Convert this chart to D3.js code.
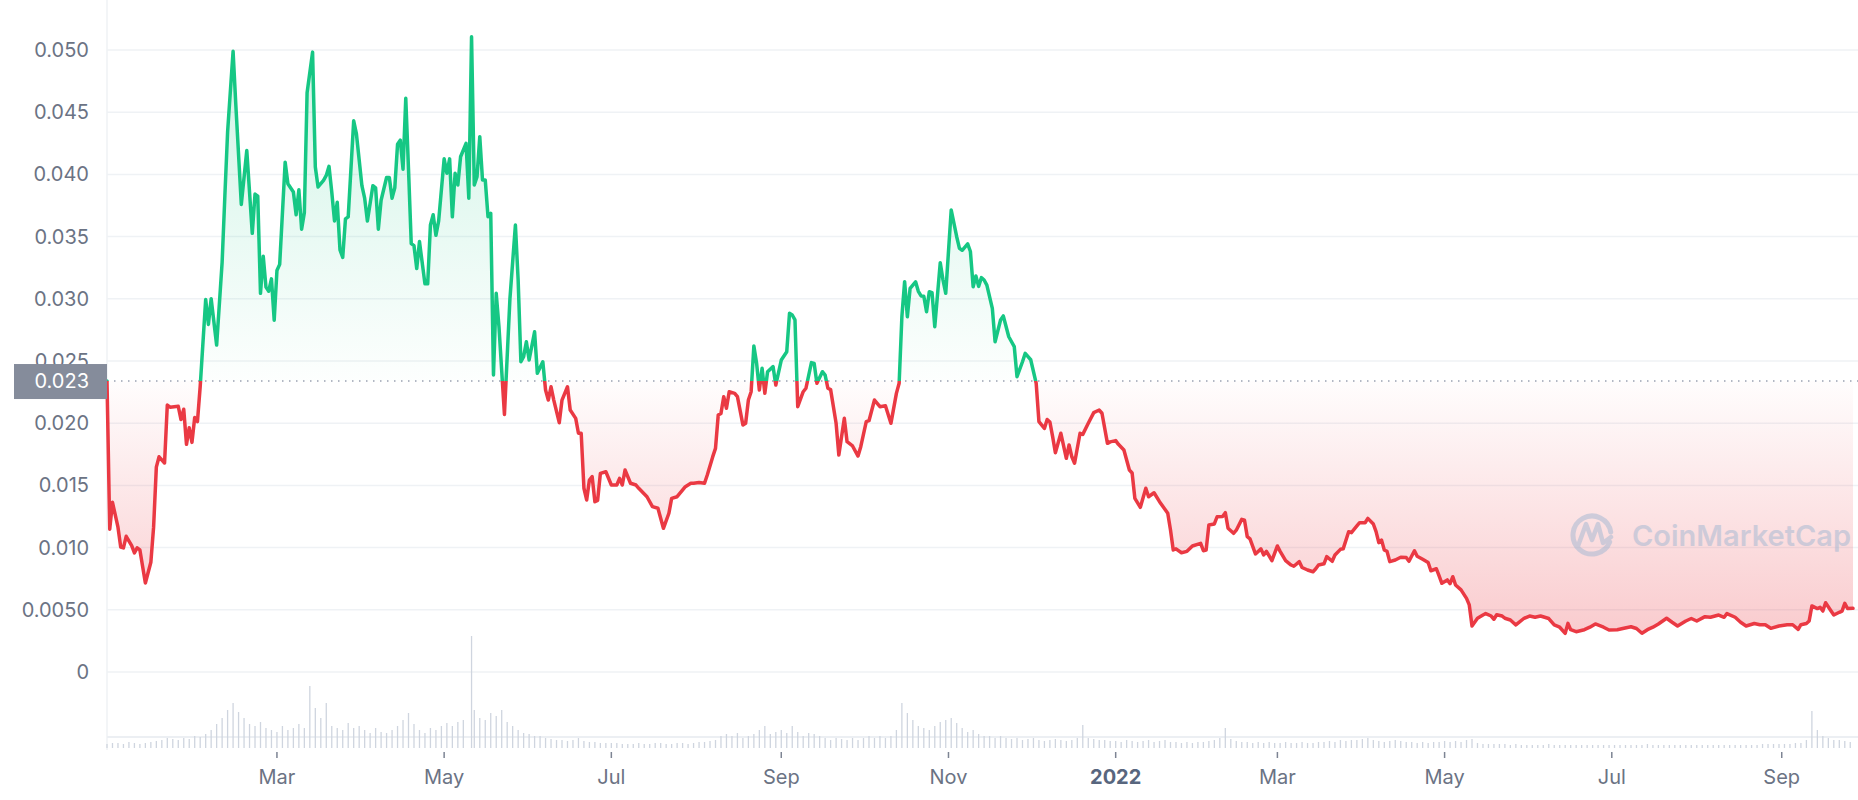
<!DOCTYPE html>
<html>
<head>
<meta charset="utf-8">
<script src="https://cdn.jsdelivr.net/npm/d3@7"></script>
<style>
  html, body { margin: 0; padding: 0; background: #fff; }
  svg { display: block; font-family: Inter, "Noto Sans", sans-serif; }
</style>
</head>
<body>
<div id="chart"></div>
<script>
// price series, one line per month
const DATES = [
  '2020-12-29','2020-12-30','2020-12-31',
  '2021-01-02','2021-01-03','2021-01-04','2021-01-05','2021-01-07','2021-01-08','2021-01-09','2021-01-10','2021-01-12','2021-01-14','2021-01-15','2021-01-16','2021-01-17','2021-01-19','2021-01-20','2021-01-21','2021-01-24','2021-01-25','2021-01-26','2021-01-27','2021-01-28','2021-01-29','2021-01-30','2021-01-31',
  '2021-02-01','2021-02-03','2021-02-04','2021-02-05','2021-02-07','2021-02-09','2021-02-10','2021-02-11','2021-02-13','2021-02-14','2021-02-16','2021-02-18','2021-02-20','2021-02-21','2021-02-22','2021-02-23','2021-02-24','2021-02-25','2021-02-26','2021-02-27','2021-02-28',
  '2021-03-01','2021-03-02','2021-03-04','2021-03-05','2021-03-07','2021-03-08','2021-03-09','2021-03-10','2021-03-11','2021-03-12','2021-03-14','2021-03-15','2021-03-16','2021-03-18','2021-03-19','2021-03-20','2021-03-21','2021-03-22','2021-03-23','2021-03-24','2021-03-25','2021-03-26','2021-03-27','2021-03-29','2021-03-30',
  '2021-04-01','2021-04-02','2021-04-03','2021-04-05','2021-04-06','2021-04-07','2021-04-08','2021-04-10','2021-04-11','2021-04-12','2021-04-13','2021-04-14','2021-04-15','2021-04-16','2021-04-17','2021-04-18','2021-04-19','2021-04-20','2021-04-21','2021-04-22','2021-04-24','2021-04-25','2021-04-26','2021-04-27','2021-04-28','2021-04-29',
  '2021-05-01','2021-05-02','2021-05-03','2021-05-04','2021-05-05','2021-05-06','2021-05-07','2021-05-09','2021-05-10','2021-05-11','2021-05-12','2021-05-13','2021-05-14','2021-05-15','2021-05-16','2021-05-17','2021-05-18','2021-05-19','2021-05-20','2021-05-21','2021-05-23','2021-05-25','2021-05-27','2021-05-28','2021-05-29','2021-05-30','2021-05-31',
  '2021-06-01','2021-06-03','2021-06-04','2021-06-06','2021-06-07','2021-06-08','2021-06-09','2021-06-10','2021-06-12','2021-06-13','2021-06-15','2021-06-16','2021-06-18','2021-06-19','2021-06-20','2021-06-21','2021-06-22','2021-06-23','2021-06-24','2021-06-25','2021-06-26','2021-06-27','2021-06-29',
  '2021-07-01','2021-07-03','2021-07-04','2021-07-05','2021-07-06','2021-07-08','2021-07-10','2021-07-11','2021-07-14','2021-07-16','2021-07-18','2021-07-20','2021-07-22','2021-07-23','2021-07-25','2021-07-28','2021-07-30','2021-07-31',
  '2021-08-02','2021-08-04','2021-08-05','2021-08-07','2021-08-08','2021-08-09','2021-08-10','2021-08-11','2021-08-12','2021-08-13','2021-08-15','2021-08-16','2021-08-18','2021-08-19','2021-08-20','2021-08-21','2021-08-22','2021-08-23','2021-08-24','2021-08-25','2021-08-26','2021-08-27','2021-08-29','2021-08-30',
  '2021-09-01','2021-09-03','2021-09-04','2021-09-05','2021-09-06','2021-09-07','2021-09-09','2021-09-10','2021-09-12','2021-09-13','2021-09-14','2021-09-16','2021-09-17','2021-09-18','2021-09-19','2021-09-21','2021-09-22','2021-09-24','2021-09-25','2021-09-27','2021-09-29','2021-09-30',
  '2021-10-02','2021-10-03','2021-10-05','2021-10-07','2021-10-09','2021-10-11','2021-10-13','2021-10-14','2021-10-15','2021-10-16','2021-10-17','2021-10-18','2021-10-20','2021-10-21','2021-10-22','2021-10-23','2021-10-24','2021-10-25','2021-10-26','2021-10-27','2021-10-29','2021-10-30','2021-10-31',
  '2021-11-02','2021-11-04','2021-11-05','2021-11-06','2021-11-08','2021-11-09','2021-11-10','2021-11-11','2021-11-12','2021-11-13','2021-11-14','2021-11-15','2021-11-17','2021-11-18','2021-11-20','2021-11-21','2021-11-23','2021-11-25','2021-11-26','2021-11-28','2021-11-29',
  '2021-12-01','2021-12-03','2021-12-04','2021-12-06','2021-12-07','2021-12-08','2021-12-09','2021-12-10','2021-12-12','2021-12-14','2021-12-15','2021-12-16','2021-12-17','2021-12-19','2021-12-20','2021-12-22','2021-12-24','2021-12-26','2021-12-27','2021-12-29','2021-12-30',
  '2022-01-01','2022-01-02','2022-01-04','2022-01-06','2022-01-07','2022-01-08','2022-01-10','2022-01-12','2022-01-13','2022-01-15','2022-01-17','2022-01-20','2022-01-21','2022-01-22','2022-01-23','2022-01-25','2022-01-27','2022-01-29',
  '2022-02-01','2022-02-02','2022-02-03','2022-02-04','2022-02-06','2022-02-07','2022-02-09','2022-02-10','2022-02-11','2022-02-13','2022-02-14','2022-02-16','2022-02-17','2022-02-18','2022-02-19','2022-02-21','2022-02-23','2022-02-24','2022-02-25','2022-02-27',
  '2022-03-01','2022-03-02','2022-03-04','2022-03-06','2022-03-07','2022-03-09','2022-03-10','2022-03-12','2022-03-14','2022-03-15','2022-03-16','2022-03-18','2022-03-19','2022-03-21','2022-03-22','2022-03-24','2022-03-25','2022-03-27','2022-03-28','2022-03-30','2022-03-31',
  '2022-04-02','2022-04-03','2022-04-05','2022-04-06','2022-04-07','2022-04-08','2022-04-09','2022-04-10','2022-04-11','2022-04-13','2022-04-15','2022-04-17','2022-04-18','2022-04-20','2022-04-21','2022-04-23','2022-04-25','2022-04-26','2022-04-28','2022-04-29','2022-04-30',
  '2022-05-02','2022-05-03','2022-05-04','2022-05-05','2022-05-07','2022-05-09','2022-05-10','2022-05-11','2022-05-13','2022-05-15','2022-05-16','2022-05-18','2022-05-19','2022-05-20','2022-05-22','2022-05-23','2022-05-25','2022-05-27','2022-05-30',
  '2022-06-01','2022-06-03','2022-06-05','2022-06-08','2022-06-10','2022-06-12','2022-06-14','2022-06-15','2022-06-16','2022-06-18','2022-06-21','2022-06-23','2022-06-25','2022-06-28','2022-06-30',
  '2022-07-03','2022-07-05','2022-07-08','2022-07-10','2022-07-12','2022-07-14','2022-07-16','2022-07-18','2022-07-21','2022-07-23','2022-07-25','2022-07-28','2022-07-30',
  '2022-08-01','2022-08-04','2022-08-06','2022-08-09','2022-08-11','2022-08-12','2022-08-15','2022-08-17','2022-08-19','2022-08-22','2022-08-24','2022-08-26','2022-08-28','2022-08-31',
  '2022-09-03','2022-09-05','2022-09-07','2022-09-08','2022-09-10','2022-09-11','2022-09-12','2022-09-14','2022-09-15','2022-09-16','2022-09-17','2022-09-19','2022-09-20','2022-09-22','2022-09-23','2022-09-24','2022-09-25','2022-09-27'
];

const PRICES = [
  .02339,.01148,.01364,
  .01164,.01005,.00998,.01091,.01015,.00958,.00998,.00981,.00715,.00882,.01164,.01647,.01730,.01680,.02146,.02129,.02136,.02029,.02112,.01830,.01963,.01846,.02046,.02013,
  .02295,.02994,.02794,.03001,.02628,.03293,.03826,.04341,.04990,.04558,.03759,.04192,.03526,.03842,.03826,.03044,.03343,.03094,.03061,.03160,.02828,
  .03227,.03277,.04098,.03925,.03859,.03676,.03876,.03560,.03693,.04657,.04983,.04059,.03899,.03952,.03992,.04065,.03859,.03626,.03776,.03393,.03333,.03643,.03659,.04431,.04325,
  .03909,.03809,.03626,.03909,.03892,.03560,.03792,.03975,.03975,.03809,.03892,.04242,.04275,.04042,.04612,.04042,.03443,.03427,.03243,.03460,.03120,.03120,.03593,.03676,.03510,.03626,
  .04125,.04009,.04125,.03659,.04009,.03915,.04142,.04250,.03808,.05107,.03915,.03982,.04303,.03955,.03955,.03660,.03687,.02387,.03044,.02776,.02070,.03000,.03593,.03151,.02494,.02535,.02655,
  .02508,.02735,.02401,.02494,.02267,.02186,.02293,.02186,.02004,.02186,.02293,.02106,.02039,.01919,.01919,.01477,.01383,.01543,.01570,.01369,.01380,.01597,.01610,
  .01503,.01503,.01557,.01503,.01624,.01517,.01503,.01477,.01409,.01329,.01316,.01155,.01276,.01396,.01409,.01490,.01517,.01517,
  .01523,.01517,.01584,.01731,.01798,.02066,.02079,.02213,.02120,.02253,.02240,.02213,.01986,.02000,.02186,.02253,.02621,.02481,.02267,.02441,.02240,.02414,.02455,.02307,
  .02508,.02575,.02883,.02870,.02830,.02133,.02253,.02281,.02487,.02480,.02321,.02414,.02387,.02281,.02270,.01999,.01744,.02039,.01851,.01817,.01736,.01811,
  .02012,.02020,.02186,.02133,.02140,.01999,.02240,.02321,.02856,.03137,.02856,.03084,.03137,.03060,.03023,.03020,.02896,.03057,.03050,.02776,.03290,.03151,.03044,
  .03714,.03499,.03406,.03390,.03441,.03380,.03097,.03183,.03100,.03170,.03151,.03110,.02923,.02655,.02830,.02862,.02695,.02615,.02374,.02494,.02561,
  .02510,.02321,.02012,.01958,.02030,.02010,.01892,.01763,.01919,.01718,.01825,.01730,.01678,.01919,.01910,.01999,.02085,.02106,.02080,.01838,.01850,
  .01860,.01830,.01785,.01624,.01600,.01396,.01324,.01477,.01409,.01441,.01369,.01276,.01141,.00981,.00990,.00959,.00970,.01013,
  .01034,.00975,.00980,.01182,.01190,.01248,.01250,.01281,.01155,.01115,.01140,.01227,.01220,.01088,.01070,.00949,.00990,.00941,.00970,.00895,
  .01013,.00970,.00895,.00860,.00850,.00887,.00840,.00820,.00806,.00830,.00860,.00870,.00927,.00890,.00940,.00986,.00990,.01128,.01120,.01174,.01200,
  .01200,.01235,.01190,.01128,.01040,.01060,.00981,.00970,.00887,.00900,.00922,.00920,.00890,.00975,.00930,.00906,.00880,.00814,.00830,.00772,.00713,
  .00740,.00710,.00766,.00699,.00660,.00592,.00539,.00370,.00432,.00458,.00470,.00450,.00424,.00460,.00450,.00432,.00418,.00378,.00432,
  .00450,.00440,.00450,.00430,.00378,.00360,.00311,.00391,.00340,.00324,.00340,.00360,.00386,.00360,.00338,
  .00340,.00350,.00364,.00350,.00311,.00340,.00360,.00386,.00432,.00400,.00370,.00410,.00430,
  .00410,.00445,.00440,.00458,.00440,.00470,.00440,.00400,.00370,.00390,.00380,.00380,.00351,.00370,
  .00380,.00380,.00343,.00380,.00390,.00410,.00531,.00510,.00520,.00490,.00557,.00490,.00458,.00480,.00490,.00552,.00510,.00512
];

// traded volume (relative units) every other day
const VOL_DATES = [
  '2020-12-29','2020-12-31',
  '2021-01-02','2021-01-04','2021-01-06','2021-01-08','2021-01-10','2021-01-12','2021-01-14','2021-01-16','2021-01-18','2021-01-20','2021-01-22','2021-01-24','2021-01-26','2021-01-28','2021-01-30',
  '2021-02-01','2021-02-03','2021-02-05','2021-02-07','2021-02-09','2021-02-11','2021-02-13','2021-02-15','2021-02-17','2021-02-19','2021-02-21','2021-02-23','2021-02-25','2021-02-27',
  '2021-03-01','2021-03-03','2021-03-05','2021-03-07','2021-03-09','2021-03-11','2021-03-13','2021-03-15','2021-03-17','2021-03-19','2021-03-21','2021-03-23','2021-03-25','2021-03-27','2021-03-29','2021-03-31',
  '2021-04-02','2021-04-04','2021-04-06','2021-04-08','2021-04-10','2021-04-12','2021-04-14','2021-04-16','2021-04-18','2021-04-20','2021-04-22','2021-04-24','2021-04-26','2021-04-28','2021-04-30',
  '2021-05-02','2021-05-04','2021-05-06','2021-05-08','2021-05-11','2021-05-12','2021-05-14','2021-05-16','2021-05-18','2021-05-20','2021-05-22','2021-05-24','2021-05-26','2021-05-28','2021-05-30',
  '2021-06-01','2021-06-03','2021-06-05','2021-06-07','2021-06-09','2021-06-11','2021-06-13','2021-06-15','2021-06-17','2021-06-19','2021-06-21','2021-06-23','2021-06-25','2021-06-27','2021-06-29',
  '2021-07-01','2021-07-03','2021-07-05','2021-07-07','2021-07-09','2021-07-11','2021-07-13','2021-07-15','2021-07-17','2021-07-19','2021-07-21','2021-07-23','2021-07-25','2021-07-27','2021-07-29','2021-07-31',
  '2021-08-02','2021-08-04','2021-08-06','2021-08-08','2021-08-10','2021-08-12','2021-08-14','2021-08-16','2021-08-18','2021-08-20','2021-08-22','2021-08-24','2021-08-26','2021-08-28','2021-08-30',
  '2021-09-01','2021-09-03','2021-09-05','2021-09-07','2021-09-09','2021-09-11','2021-09-13','2021-09-15','2021-09-17','2021-09-19','2021-09-21','2021-09-23','2021-09-25','2021-09-27','2021-09-29',
  '2021-10-01','2021-10-03','2021-10-05','2021-10-07','2021-10-09','2021-10-11','2021-10-13','2021-10-15','2021-10-17','2021-10-19','2021-10-21','2021-10-23','2021-10-25','2021-10-27','2021-10-29','2021-10-31',
  '2021-11-02','2021-11-04','2021-11-06','2021-11-08','2021-11-10','2021-11-12','2021-11-14','2021-11-16','2021-11-18','2021-11-20','2021-11-22','2021-11-24','2021-11-26','2021-11-28','2021-11-30',
  '2021-12-02','2021-12-04','2021-12-06','2021-12-08','2021-12-10','2021-12-12','2021-12-14','2021-12-16','2021-12-18','2021-12-20','2021-12-22','2021-12-24','2021-12-26','2021-12-28','2021-12-30',
  '2022-01-01','2022-01-03','2022-01-05','2022-01-07','2022-01-09','2022-01-11','2022-01-13','2022-01-15','2022-01-17','2022-01-19','2022-01-21','2022-01-23','2022-01-25','2022-01-27','2022-01-29','2022-01-31',
  '2022-02-02','2022-02-04','2022-02-06','2022-02-08','2022-02-10','2022-02-12','2022-02-14','2022-02-16','2022-02-18','2022-02-20','2022-02-22','2022-02-24','2022-02-26','2022-02-28',
  '2022-03-02','2022-03-04','2022-03-06','2022-03-08','2022-03-10','2022-03-12','2022-03-14','2022-03-16','2022-03-18','2022-03-20','2022-03-22','2022-03-24','2022-03-26','2022-03-28','2022-03-30',
  '2022-04-01','2022-04-03','2022-04-05','2022-04-07','2022-04-09','2022-04-11','2022-04-13','2022-04-15','2022-04-17','2022-04-19','2022-04-21','2022-04-23','2022-04-25','2022-04-27','2022-04-29',
  '2022-05-01','2022-05-03','2022-05-05','2022-05-07','2022-05-09','2022-05-11','2022-05-13','2022-05-15','2022-05-17','2022-05-19','2022-05-21','2022-05-23','2022-05-25','2022-05-27','2022-05-29','2022-05-31',
  '2022-06-02','2022-06-04','2022-06-06','2022-06-08','2022-06-10','2022-06-12','2022-06-14','2022-06-16','2022-06-18','2022-06-20','2022-06-22','2022-06-24','2022-06-26','2022-06-28','2022-06-30',
  '2022-07-02','2022-07-04','2022-07-06','2022-07-08','2022-07-10','2022-07-12','2022-07-14','2022-07-16','2022-07-18','2022-07-20','2022-07-22','2022-07-24','2022-07-26','2022-07-28','2022-07-30',
  '2022-08-01','2022-08-03','2022-08-05','2022-08-07','2022-08-09','2022-08-11','2022-08-13','2022-08-15','2022-08-17','2022-08-19','2022-08-21','2022-08-23','2022-08-25','2022-08-27','2022-08-29','2022-08-31',
  '2022-09-02','2022-09-04','2022-09-06','2022-09-08','2022-09-10','2022-09-12','2022-09-14','2022-09-16','2022-09-18','2022-09-20','2022-09-22','2022-09-24','2022-09-26'
];

const VOLUMES = [
  4,5,
  5,4,6,5,4,5,6,7,8,10,9,8,10,9,12,
  11,14,18,24,30,38,45,36,30,24,22,26,20,18,
  16,22,18,20,24,20,62,40,30,45,22,20,18,25,20,22,
  18,15,20,16,15,18,22,28,35,24,18,15,20,18,22,
  25,22,26,28,112,38,30,28,35,32,38,26,22,18,15,
  14,12,12,10,9,8,8,7,8,10,7,6,6,5,5,
  5,5,4,4,4,5,4,4,5,5,4,4,5,5,4,5,
  6,6,7,8,12,14,12,15,10,12,14,18,22,14,16,
  18,15,22,16,12,15,14,12,10,8,10,9,8,10,8,
  10,12,10,12,10,12,18,45,35,28,22,20,18,22,26,28,
  30,25,20,16,18,14,12,12,10,12,10,9,10,8,9,
  10,8,7,8,9,8,7,8,10,23,10,9,8,8,7,
  7,6,8,7,6,7,8,6,7,8,6,6,5,6,5,6,
  6,7,8,10,20,9,7,6,6,5,6,5,6,5,
  5,6,5,5,6,5,5,6,6,7,6,8,7,8,8,
  9,10,8,7,6,7,8,7,6,6,5,6,5,6,6,
  7,6,7,6,8,9,5,4,4,4,4,4,3,4,3,3,
  3,3,3,4,3,3,3,3,3,3,3,3,3,3,3,
  3,3,3,3,3,3,4,3,3,3,3,3,3,3,3,
  3,3,3,3,3,3,3,3,3,3,3,3,4,4,4,4,
  4,4,5,5,8,37,18,12,10,8,8,7,6
];

const BASE_PRICE = 0.02339;
const BASE_LABEL = '0.023';
const Y_TICKS = [0, 0.005, 0.010, 0.015, 0.020, 0.025, 0.030, 0.035, 0.040, 0.045, 0.050];
const Y_TICK_LABELS = ['0', '0.0050', '0.010', '0.015', '0.020', '0.025', '0.030', '0.035', '0.040', '0.045', '0.050'];
const X_TICKS = ['2021-03-01', '2021-05-01', '2021-07-01', '2021-09-01', '2021-11-01',
                 '2022-01-01', '2022-03-01', '2022-05-01', '2022-07-01', '2022-09-01'];

const WIDTH = 1858;
const HEIGHT = 800;
const PLOT_LEFT = 107;
const PLOT_RIGHT = 1853;
const GREEN = '#16c784';
const RED = '#ea3943';
const GRID = '#eff2f5';
const LABEL = '#6b7384';

const parseDate = d3.timeParse('%Y-%m-%d');
const monthFormat = d3.timeFormat('%b');

const data = DATES.map((d, i) => ({date: parseDate(d), price: PRICES[i]}));
const volData = VOL_DATES.map((d, i) => ({date: parseDate(d), vol: VOLUMES[i]}));

const x = d3.scaleTime()
  .domain(d3.extent(data, d => d.date))
  .range([PLOT_LEFT, PLOT_RIGHT]);

const y = d3.scaleLinear()
  .domain([0, 0.05])
  .range([672, 50]);

const yVol = d3.scaleLinear()
  .domain([0, 120])
  .range([748, 628]);

const svg = d3.select('#chart').append('svg')
  .attr('width', WIDTH)
  .attr('height', HEIGHT)
  .attr('viewBox', `0 0 ${WIDTH} ${HEIGHT}`);

const baseY = y(BASE_PRICE);

// gradients and clips
const defs = svg.append('defs');

const greenGrad = defs.append('linearGradient')
  .attr('id', 'greenFill')
  .attr('gradientUnits', 'userSpaceOnUse')
  .attr('x1', 0).attr('x2', 0)
  .attr('y1', baseY).attr('y2', y(0.05));
greenGrad.append('stop').attr('offset', 0).attr('stop-color', GREEN).attr('stop-opacity', 0.01);
greenGrad.append('stop').attr('offset', 1).attr('stop-color', GREEN).attr('stop-opacity', 0.2);

const redGrad = defs.append('linearGradient')
  .attr('id', 'redFill')
  .attr('gradientUnits', 'userSpaceOnUse')
  .attr('x1', 0).attr('x2', 0)
  .attr('y1', baseY).attr('y2', y(0));
redGrad.append('stop').attr('offset', 0).attr('stop-color', RED).attr('stop-opacity', 0.01);
redGrad.append('stop').attr('offset', 1).attr('stop-color', RED).attr('stop-opacity', 0.3);

defs.append('clipPath').attr('id', 'above')
  .append('rect')
  .attr('x', 0).attr('y', 0)
  .attr('width', WIDTH).attr('height', baseY);

defs.append('clipPath').attr('id', 'below')
  .append('rect')
  .attr('x', 0).attr('y', baseY)
  .attr('width', WIDTH).attr('height', HEIGHT - baseY);

// grid
svg.append('line')
  .attr('x1', PLOT_LEFT).attr('x2', PLOT_LEFT)
  .attr('y1', 0).attr('y2', 750)
  .attr('stroke', GRID)
  .attr('stroke-width', 1.5);

svg.append('g')
  .selectAll('line')
  .data(Y_TICKS)
  .join('line')
    .attr('x1', PLOT_LEFT).attr('x2', WIDTH)
    .attr('y1', d => y(d)).attr('y2', d => y(d))
    .attr('stroke', GRID)
    .attr('stroke-width', 1.5);

svg.append('line')
  .attr('x1', PLOT_LEFT).attr('x2', WIDTH)
  .attr('y1', 737).attr('y2', 737)
  .attr('stroke', '#eceff3')
  .attr('stroke-width', 2);

svg.append('g')
  .selectAll('text')
  .data(Y_TICKS)
  .join('text')
    .attr('x', 89)
    .attr('y', d => y(d))
    .attr('dy', '0.35em')
    .attr('text-anchor', 'end')
    .attr('font-size', 20)
    .attr('fill', LABEL)
    .text((d, i) => Y_TICK_LABELS[i]);

// volume
svg.append('g')
  .selectAll('line')
  .data(volData)
  .join('line')
    .attr('x1', d => x(d.date)).attr('x2', d => x(d.date))
    .attr('y1', yVol(0)).attr('y2', d => yVol(d.vol))
    .attr('stroke', '#cfd5df')
    .attr('stroke-width', 1.3);

// areas and line
const area = d3.area()
  .x(d => x(d.date))
  .y0(baseY)
  .y1(d => y(d.price));

const line = d3.line()
  .x(d => x(d.date))
  .y(d => y(d.price));

svg.append('path')
  .datum(data)
  .attr('clip-path', 'url(#above)')
  .attr('fill', 'url(#greenFill)')
  .attr('d', area);

svg.append('path')
  .datum(data)
  .attr('clip-path', 'url(#below)')
  .attr('fill', 'url(#redFill)')
  .attr('d', area);

svg.append('line')
  .attr('x1', PLOT_LEFT).attr('x2', WIDTH)
  .attr('y1', baseY).attr('y2', baseY)
  .attr('stroke', '#9aa1b1')
  .attr('stroke-width', 1.5)
  .attr('stroke-dasharray', '1.5 5.5');

[['above', GREEN], ['below', RED]].forEach(([clip, colour]) => {
  svg.append('path')
    .datum(data)
    .attr('clip-path', `url(#${clip})`)
    .attr('fill', 'none')
    .attr('stroke', colour)
    .attr('stroke-width', 3.5)
    .attr('stroke-linejoin', 'round')
    .attr('stroke-linecap', 'round')
    .attr('d', line);
});

// current-price tag on the y axis
svg.append('rect')
  .attr('x', 14).attr('y', baseY - 17)
  .attr('width', PLOT_LEFT - 14).attr('height', 35)
  .attr('fill', '#858c9b');

svg.append('text')
  .attr('x', 89).attr('y', baseY)
  .attr('dy', '0.35em')
  .attr('text-anchor', 'end')
  .attr('font-size', 20)
  .attr('fill', '#fff')
  .text(BASE_LABEL);

// x axis
const xTicks = X_TICKS.map(parseDate);
const xAxis = svg.append('g');

xAxis.selectAll('line')
  .data(xTicks)
  .join('line')
    .attr('x1', d => x(d)).attr('x2', d => x(d))
    .attr('y1', 752).attr('y2', 758)
    .attr('stroke', '#7d8493')
    .attr('stroke-width', 1.5);

xAxis.selectAll('text')
  .data(xTicks)
  .join('text')
    .attr('x', d => x(d))
    .attr('y', 777)
    .attr('dy', '0.35em')
    .attr('text-anchor', 'middle')
    .attr('font-size', 20)
    .attr('font-weight', d => d.getMonth() === 0 ? 700 : 400)
    .attr('fill', d => d.getMonth() === 0 ? '#58667e' : LABEL)
    .text(d => d.getMonth() === 0 ? d.getFullYear() : monthFormat(d));

// watermark
const mark = svg.append('g')
  .attr('opacity', 0.55)
  .attr('fill', 'none')
  .attr('stroke', '#a9bad3')
  .attr('stroke-linecap', 'round')
  .attr('stroke-linejoin', 'round');

const logoArc = d3.arc()
  .innerRadius(19).outerRadius(19)
  .startAngle(Math.PI * 0.62)
  .endAngle(Math.PI * 2.45);

mark.append('path')
  .attr('transform', 'translate(1592,535)')
  .attr('stroke-width', 5)
  .attr('d', logoArc());

mark.append('path')
  .attr('stroke-width', 4.5)
  .attr('d', d3.line()([[1578, 546], [1586, 524], [1592, 540], [1598, 524], [1603, 543], [1611, 537]]));

svg.append('text')
  .attr('x', 1632).attr('y', 536)
  .attr('dy', '0.35em')
  .attr('font-size', 29)
  .attr('font-weight', 600)
  .attr('fill', '#a9bad3')
  .attr('opacity', 0.55)
  .text('CoinMarketCap');
</script>
</body>
</html>
